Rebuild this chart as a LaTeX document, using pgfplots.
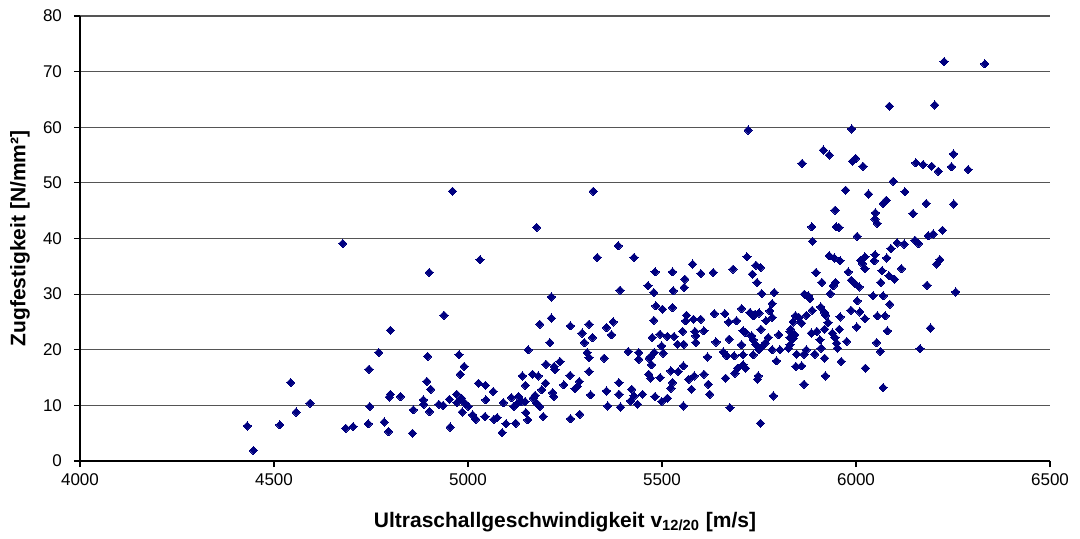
\documentclass[border=0pt]{standalone}
\usepackage{fontspec}
\setmainfont{Liberation Sans}
\usepackage{pgfplots}
\pgfplotsset{compat=1.18}
\usepackage{pgfplotstable}
\definecolor{navy}{HTML}{000080}
\definecolor{gridc}{HTML}{555555}
\pgfplotstableread{
x y
4431 6.3
4447 1.9
4515 6.5
4543 14.1
4557 8.8
4593 10.4
4677 39.1
4685 5.9
4704 6.2
4745 16.5
4770 19.5
4800 23.5
4900 33.9
5031 36.2
4938 26.2
4896 18.8
4977 19.1
4990 17
4980 15.6
5027 14
5045 13.6
5046 11
4894 14.3
4904 12.9
4800 12
4797 11.5
4826 11.6
4747 9.8
4743 6.7
4784 7
4795 5.3
4857 5
4859 9.2
4885 11
4886 10.2
4901 8.9
4925 10.2
4936 10
4952 11.1
4954 6.1
4971 12
4971 10.5
4983 11.3
4985 8.8
4992 10.4
5001 9.8
5012 8.3
5020 7.5
5044 8
4960 48.5
5323 48.5
5177 42
5333 36.6
5215 29.5
5185 24.6
5215 25.7
5264 24.3
5312 24.6
5294 23
5321 22.2
5300 21.3
5357 24
5374 25
5370 22.7
5211 21.3
5155 20
5307 19.5
5312 18.6
5351 18.5
5201 17.4
5237 17.9
5222 17
5224 16.4
5312 16.1
5140 15.3
5166 15.6
5181 15.3
5263 15.4
5148 13.6
5200 14
5247 13.7
5287 14.3
5282 13.4
5276 13
5190 12.8
5218 12.3
5221 11.6
5173 11.8
5168 11.3
5316 11.9
5357 12.6
5360 9.9
5065 12.5
5091 10.5
5112 11.4
5118 9.8
5130 11.6
5138 10.7
5147 10.7
5125 10.2
5177 10.4
5185 9.8
5149 8.7
5154 7.4
5194 8
5067 7.5
5075 7.8
5098 6.7
5123 6.8
5088 5.1
5264 7.6
5288 8.4
5387 38.7
5428 36.6
5482 34
5527 34
5579 35.4
5600 33.7
5632 33.9
5683 34.5
5559 32.7
5464 31.5
5479 30.3
5529 30.6
5557 31.2
5392 30.7
5484 27.9
5501 27.3
5527 27.6
5479 25.3
5563 26.2
5561 25.2
5581 25.5
5600 25.5
5635 26.5
5662 26.5
5672 25
5692 25.2
5475 22.2
5495 22.8
5514 22.4
5531 22.4
5553 23.3
5585 23.3
5587 22.5
5587 21.3
5608 23.4
5639 21.4
5673 21.9
5540 21
5556 21
5499 20.7
5413 19.7
5440 19.5
5480 19.5
5471 18.8
5503 19.4
5440 18.3
5467 18.5
5473 17.3
5617 18.7
5658 19.6
5667 18.9
5686 18.9
5695 16.7
5466 15.6
5471 14.9
5495 15
5523 16.2
5542 16.1
5555 17.1
5569 14.7
5583 15.3
5608 15.6
5527 14.1
5523 13.1
5576 12.9
5619 13.8
5623 12
5664 14.9
5688 15.8
5389 14.1
5389 12
5393 9.7
5422 12.9
5419 10.8
5428 11.7
5437 10.2
5450 12
5482 11.6
5499 10.7
5514 11.3
5555 9.9
5675 9.6
5722 59.5
5989 59.7
5916 55.9
5931 55
5861 53.5
5991 53.9
5999 54.4
6018 53
5973 48.7
5946 45.1
5886 42.1
5949 42.1
5956 42
6003 40.4
5888 39.5
5719 36.7
5931 36.9
5944 36.5
5959 36
6012 36.1
6017 35.5
5742 35.2
5754 34.8
5733 33.6
5745 32.1
5757 30.1
5789 30.3
5897 33.9
5912 32.1
5980 34
5947 32.1
5941 31.5
5934 30.1
5988 32.5
5997 31.9
6008 31.3
5867 30
5877 29.7
5881 29.2
5784 28.3
5705 27.4
5778 27
5727 26.7
5740 26.4
5750 26.6
5735 26.1
5784 25.8
5768 25.2
5844 26.1
5853 25.8
5872 26.2
5887 27.1
5909 27.7
5919 26.7
5922 26.2
5959 25.9
5987 27.1
6003 28.8
6010 26.8
5838 25
5860 24.8
5928 24.9
5755 23.7
5832 23.7
5830 23.3
5957 23.7
6002 24.1
5709 23.4
5715 23.1
5801 22.7
5842 22.7
5885 23
5899 23.3
5919 23.7
5939 23
5731 22.5
5735 21.8
5774 22.2
5830 22.2
5838 22
5907 21.8
5946 22.2
5705 20.9
5742 20.9
5757 20.5
5766 21.2
5830 20.9
5826 20.3
5910 20.3
5950 21.2
5952 20.3
5976 21.5
5750 20
5784 20
5804 20
5872 20
5709 19.1
5735 19.1
5847 19.2
5866 19.2
5894 19.2
5795 18
5919 18.5
5962 17.9
5709 17.3
5715 16.7
5845 17
5860 17.1
6024 16.7
5748 15.3
5746 14.7
5921 15.3
5866 13.8
5787 11.7
5754 6.8
6227 71.8
6332 71.4
6086 63.8
6203 64
6251 55.2
6154 53.6
6173 53.3
6195 53
6212 52.1
6246 52.9
6289 52.4
6096 50.3
6032 48
6126 48.4
6070 46.3
6078 46.9
6181 46.3
6252 46.2
6050 44.6
6147 44.5
6049 43.5
6055 42.7
6186 40.5
6199 40.8
6223 41.5
6090 38.2
6106 39.2
6124 39
6152 39.7
6161 39.1
6023 36.7
6049 37.1
6079 36.5
6216 36.2
6047 36
6023 34.6
6067 34.2
6085 33.3
6099 32.7
6117 34.6
6064 32.1
6208 35.4
6183 31.6
6257 30.4
6044 29.7
6070 29.7
6087 28.2
6023 25.6
6055 26.1
6075 26.1
6081 23.4
6192 23.9
6053 21.3
6063 19.7
6165 20.2
6070 13.2
}\data
\begin{document}
\begin{tikzpicture}
\useasboundingbox (-40pt,-38.5pt) rectangle (500pt,230.5pt);
\begin{axis}[
  at={(0,0)}, anchor=south west,
  scale only axis,
  width=485pt, height=222.5pt,
  xmin=4000, xmax=6500, ymin=0, ymax=80,
  xtick={4000,4500,...,6500},
  ytick={0,10,...,80},
  axis lines=left,
  axis line style={-, black, line width=0.6pt},
  ymajorgrids,
  grid style={gridc, line width=0.6pt},
  tick align=outside,
  major tick length=3pt,
  tick style={black, line width=0.6pt},
  /pgf/number format/assume math mode=true,
  /pgf/number format/1000 sep={},
  tick label style={font=\fontsize{8.5}{10}\selectfont},
  yticklabel style={xshift=-2.5pt},
  xlabel={\textbf{Ultraschallgeschwindigkeit v\textsubscript{12/20} [m/s]}},
  ylabel={\textbf{Zugfestigkeit [N/mm²]}},
  label style={font=\fontsize{10.5}{12.6}\selectfont},
  xlabel style={at={(rel axis cs:0.5,0)}, anchor=center, yshift=-30.5pt},
  ylabel style={at={(rel axis cs:0,0.5)}, anchor=center, yshift=30pt},
  clip=false,
]
\addplot[only marks, mark=square*, mark size=1.45pt,
  mark options={rotate=45, fill=navy, draw=navy, line width=0pt}] table[x=x,y=y] {\data};
\end{axis}
\end{tikzpicture}
\end{document}
